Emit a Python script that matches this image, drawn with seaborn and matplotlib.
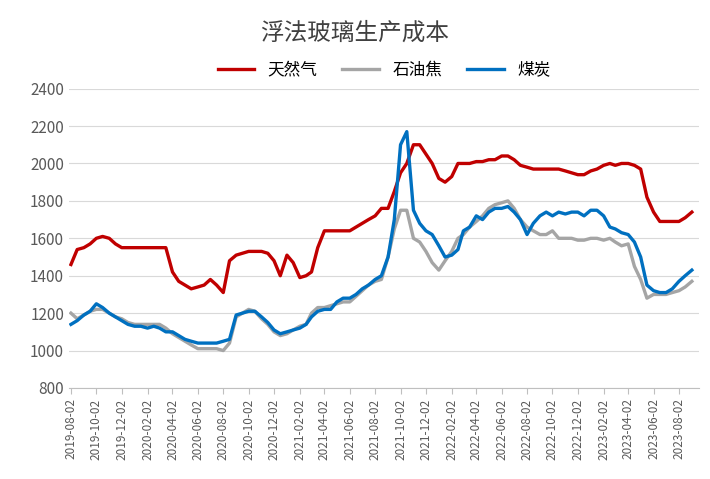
import pandas as pd, numpy as np
import matplotlib
matplotlib.use("Agg")
import matplotlib.pyplot as plt
import seaborn as sns

plt.rcParams["font.family"] = ["Noto Sans CJK SC"]

gas = [1460,1540,1550,1570,1600,1610,1600,1570,1550,1550,1550,1550,1550,1550,1550,1550,1420,1370,1350,1330,1340,1350,1380,1350,1310,1480,1510,1520,1530,1530,1530,1520,1480,1400,1510,1470,1390,1400,1420,1550,1640,1640,1640,1640,1640,1660,1680,1700,1720,1760,1760,1850,1950,2000,2100,2100,2050,2000,1920,1900,1930,2000,2000,2000,2010,2010,2020,2020,2040,2040,2020,1990,1980,1970,1970,1970,1970,1970,1960,1950,1940,1940,1960,1970,1990,2000,1990,2000,2000,1990,1970,1820,1740,1690,1690,1690,1690,1710,1740]
petcoke = [1200,1170,1190,1210,1220,1220,1200,1180,1170,1150,1140,1140,1140,1140,1140,1120,1090,1070,1050,1030,1010,1010,1010,1010,1000,1040,1180,1200,1220,1210,1170,1140,1100,1080,1090,1110,1130,1140,1200,1230,1230,1240,1250,1260,1260,1290,1320,1350,1370,1380,1500,1650,1750,1750,1600,1580,1530,1470,1430,1480,1530,1600,1620,1660,1690,1720,1760,1780,1790,1800,1760,1700,1660,1640,1620,1620,1640,1600,1600,1600,1590,1590,1600,1600,1590,1600,1580,1560,1570,1450,1380,1280,1300,1300,1300,1310,1320,1340,1370]
coal = [1140,1160,1190,1210,1250,1230,1200,1180,1160,1140,1130,1130,1120,1130,1120,1100,1100,1080,1060,1050,1040,1040,1040,1040,1050,1060,1190,1200,1210,1210,1180,1150,1110,1090,1100,1110,1120,1140,1180,1210,1220,1220,1260,1280,1280,1300,1330,1350,1380,1400,1500,1700,2100,2170,1750,1680,1640,1620,1560,1500,1510,1540,1640,1660,1720,1700,1740,1760,1760,1770,1740,1700,1620,1680,1720,1740,1720,1740,1730,1740,1740,1720,1750,1750,1720,1660,1650,1630,1620,1580,1500,1350,1320,1310,1310,1330,1370,1400,1430]

dates = []
for m in pd.date_range("2019-08-01", "2023-09-01", freq="MS"):
    dates.append(m + pd.Timedelta(days=1))
    dates.append(m + pd.Timedelta(days=16))
dates = dates[:len(gas)]

df = pd.DataFrame({"date": dates, "天然气": gas, "石油焦": petcoke, "煤炭": coal})
long = df.melt("date", var_name="s", value_name="v")

fig, ax = plt.subplots(figsize=(7.1, 4.79), dpi=100)
fig.subplots_adjust(left=0.097, right=0.985, top=0.815, bottom=0.19)
sns.lineplot(data=long, x="date", y="v", hue="s", palette=["#C00000", "#A5A5A5", "#0070C0"], linewidth=2.4, ax=ax)
ax.set_ylim(800, 2400)
ax.set_yticks(range(800, 2401, 200))
ticks = [pd.Timestamp(2019 + (7 + 2*i)//12, (7 + 2*i) % 12 + 1, 2) for i in range(25)]
ax.set_xticks(ticks)
ax.set_xticklabels([t.strftime("%Y-%m-%d") for t in ticks], rotation=90, fontsize=8.5, color="#595959")
ax.set_xlim(pd.Timestamp("2019-07-28"), pd.Timestamp("2023-09-20"))
ax.tick_params(axis="y", labelsize=11, colors="#595959", length=0)
ax.tick_params(axis="x", length=4, color="#BFBFBF")
ax.grid(axis="y", color="#D9D9D9", linewidth=0.8)
for s in ["top", "right", "left"]:
    ax.spines[s].set_visible(False)
ax.spines["bottom"].set_color("#BFBFBF")
ax.set_xlabel(""); ax.set_ylabel("")
ax.legend(loc="upper center", bbox_to_anchor=(0.5, 1.14), ncol=3, frameon=False, fontsize=12, handlelength=2.2, columnspacing=1.5)
fig.suptitle("浮法玻璃生产成本", y=0.955, fontsize=17, color="#404040")
fig.savefig("out.png")
